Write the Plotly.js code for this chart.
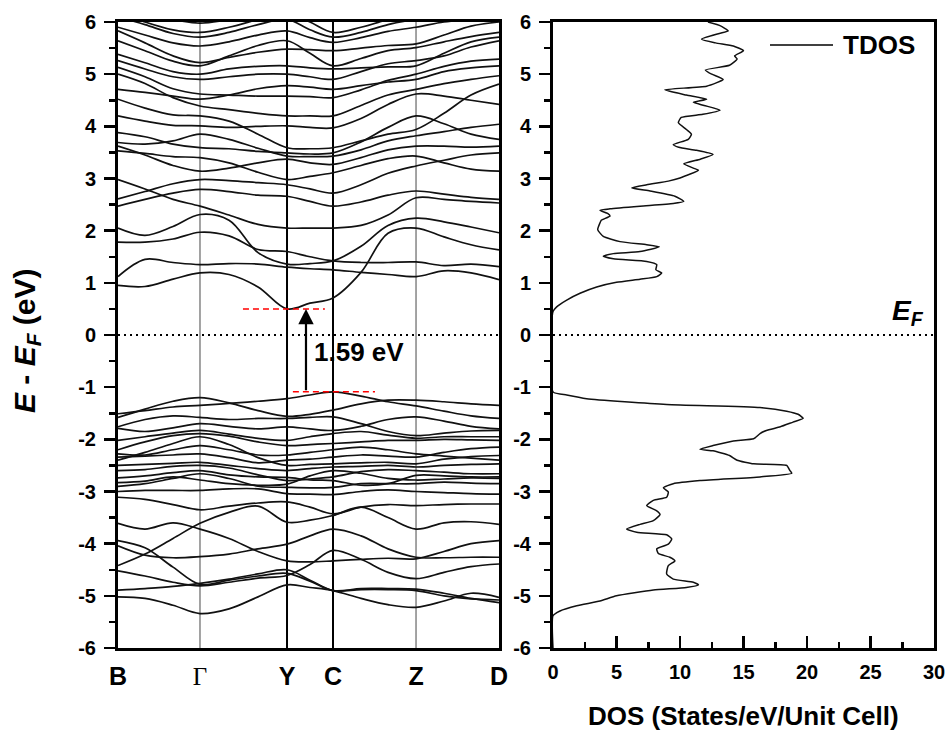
<!DOCTYPE html>
<html>
<head>
<meta charset="utf-8">
<script src="https://cdn.plot.ly/plotly-3.0.1.min.js"></script>
<style>
  html, body { margin: 0; padding: 0; background: #ffffff; }
  #chart { width: 950px; height: 734px; }
</style>
</head>
<body>
<div id="chart"></div>
<script>
// ---- k-path (fractional distance along B-Γ-Y-C-Z-D) ----
const kPath = [0, 0.0709, 0.1444, 0.2152, 0.2913, 0.3675, 0.4436, 0.5039,
               0.5643, 0.6378, 0.7087, 0.7822, 0.8556, 0.9265, 1.0];
const symPos = [0, 0.2152, 0.4436, 0.5643, 0.7822, 1.0];
const symLabels = ['B', 'Γ', 'Y', 'C', 'Z', 'D'];

// ---- band energies (eV, relative to E_F), one row per band, sampled on kPath ----
const conductionLow = [
  [0.95, 0.93, 1.07, 1.19, 1.16, 0.92, 0.50, 0.61, 0.71, 1.20, 1.95, 2.05, 1.88, 1.73, 1.63],
  [1.12, 1.45, 1.39, 1.35, 1.37, 1.36, 1.30, 1.27, 1.25, 1.20, 1.16, 1.12, 1.23, 1.19, 1.06],
  [1.78, 1.78, 1.84, 1.97, 1.90, 1.64, 1.60, 1.50, 1.42, 1.39, 1.39, 1.40, 1.33, 1.36, 1.31],
  [2.05, 1.91, 2.08, 2.31, 2.20, 1.58, 1.36, 1.37, 1.42, 1.70, 2.10, 2.24, 2.17, 2.07, 1.96],
  [2.98, 2.80, 2.60, 2.47, 2.30, 2.12, 2.05, 2.05, 2.05, 2.10, 2.30, 2.63, 2.60, 2.56, 2.53]
];
const conductionHigh = [
  [2.47, 2.60, 2.72, 2.79, 2.75, 2.68, 2.66, 2.56, 2.47, 2.55, 2.68, 2.76, 2.70, 2.64, 2.60],
  [2.61, 2.75, 2.90, 2.98, 2.96, 2.92, 2.88, 2.80, 2.72, 2.88, 3.10, 3.24, 3.35, 3.45, 3.49],
  [3.53, 3.48, 3.42, 3.40, 3.30, 3.12, 2.98, 3.04, 3.11, 3.25, 3.38, 3.43, 3.30, 3.18, 3.14],
  [3.62, 3.45, 3.25, 3.14, 3.20, 3.30, 3.37, 3.30, 3.27, 3.40, 3.55, 3.62, 3.62, 3.60, 3.62],
  [3.69, 3.66, 3.72, 3.85, 3.75, 3.58, 3.43, 3.42, 3.43, 3.55, 3.72, 3.82, 3.90, 3.98, 4.04],
  [3.88, 3.80, 3.66, 3.59, 3.57, 3.52, 3.49, 3.47, 3.49, 3.70, 3.98, 4.20, 4.05, 3.85, 3.75],
  [4.20, 4.10, 4.02, 4.01, 3.98, 4.00, 4.01, 3.98, 3.97, 4.15, 4.42, 4.62, 4.58, 4.50, 4.42],
  [4.52, 4.35, 4.22, 4.20, 4.10, 3.85, 3.59, 3.57, 3.59, 3.72, 3.85, 3.94, 4.25, 4.60, 4.81],
  [5.00, 4.82, 4.55, 4.39, 4.32, 4.25, 4.20, 4.20, 4.20, 4.40, 4.60, 4.71, 4.82, 4.90, 4.97],
  [4.71, 4.65, 4.58, 4.52, 4.60, 4.72, 4.78, 4.75, 4.71, 4.78, 4.85, 4.90, 5.05, 5.12, 5.16],
  [5.13, 4.95, 4.72, 4.62, 4.60, 4.58, 4.58, 4.57, 4.55, 4.70, 4.88, 5.00, 5.15, 5.25, 5.29],
  [5.26, 5.10, 4.95, 4.90, 4.95, 5.00, 5.00, 4.95, 4.90, 5.05, 5.20, 5.26, 5.35, 5.52, 5.64],
  [5.38, 5.22, 5.05, 5.00, 5.10, 5.15, 5.16, 5.12, 5.10, 5.12, 5.14, 5.16, 5.40, 5.62, 5.71],
  [5.64, 5.45, 5.25, 5.16, 5.35, 5.55, 5.64, 5.40, 5.16, 5.30, 5.45, 5.51, 5.62, 5.72, 5.80],
  [5.83, 5.60, 5.35, 5.22, 5.32, 5.42, 5.48, 5.47, 5.45, 5.50, 5.55, 5.58, 5.75, 5.92, 6.00],
  [5.90, 5.75, 5.60, 5.54, 5.62, 5.75, 5.83, 5.70, 5.61, 5.70, 5.82, 5.90, 6.00, 6.05, 6.10],
  [6.10, 5.95, 5.78, 5.71, 5.80, 5.95, 6.05, 5.85, 5.71, 5.80, 5.95, 6.05, 6.10, 6.15, 6.20],
  [6.20, 6.00, 5.85, 5.80, 5.90, 6.05, 6.20, 6.00, 5.80, 5.90, 6.05, 6.20, 6.25, 6.28, 6.30],
  [6.35, 6.20, 6.05, 5.98, 6.05, 6.20, 6.35, 6.20, 6.10, 6.20, 6.30, 6.35, 6.38, 6.40, 6.40]
];
const valenceHigh = [
  [-1.51, -1.45, -1.38, -1.35, -1.31, -1.27, -1.22, -1.15, -1.09, -1.17, -1.28, -1.36, -1.46, -1.55, -1.60],
  [-1.58, -1.42, -1.27, -1.20, -1.30, -1.45, -1.56, -1.52, -1.44, -1.32, -1.25, -1.25, -1.28, -1.32, -1.35],
  [-1.76, -1.62, -1.55, -1.58, -1.62, -1.60, -1.60, -1.58, -1.57, -1.70, -1.85, -1.93, -1.88, -1.84, -1.83],
  [-1.79, -1.85, -1.78, -1.70, -1.75, -1.80, -1.76, -1.80, -1.83, -1.75, -1.62, -1.57, -1.65, -1.75, -1.80],
  [-2.02, -1.95, -1.88, -1.83, -1.90, -1.98, -2.02, -1.95, -1.89, -1.85, -1.92, -1.98, -1.95, -1.95, -1.95],
  [-2.20, -2.05, -1.93, -1.89, -1.94, -2.05, -2.12, -2.10, -2.08, -2.05, -2.02, -2.02, -2.00, -2.01, -2.02],
  [-2.28, -2.30, -2.20, -2.12, -2.20, -2.30, -2.30, -2.25, -2.20, -2.15, -2.20, -2.28, -2.32, -2.36, -2.40],
  [-2.34, -2.32, -2.30, -2.28, -2.35, -2.45, -2.40, -2.38, -2.34, -2.30, -2.32, -2.34, -2.25, -2.18, -2.15],
  [-2.40, -2.25, -2.08, -1.95, -2.10, -2.35, -2.50, -2.48, -2.47, -2.45, -2.44, -2.47, -2.38, -2.33, -2.31],
  [-2.50, -2.48, -2.46, -2.44, -2.50, -2.56, -2.60, -2.56, -2.53, -2.52, -2.50, -2.53, -2.50, -2.48, -2.47],
  [-2.60, -2.58, -2.52, -2.50, -2.55, -2.68, -2.79, -2.76, -2.72, -2.62, -2.58, -2.60, -2.63, -2.66, -2.66],
  [-2.74, -2.70, -2.64, -2.60, -2.68, -2.72, -2.73, -2.78, -2.79, -2.88, -2.85, -2.69, -2.70, -2.72, -2.72],
  [-2.83, -2.80, -2.72, -2.78, -2.85, -2.88, -2.86, -2.70, -2.60, -2.65, -2.75, -2.78, -2.76, -2.74, -2.75],
  [-2.90, -2.85, -2.75, -2.66, -2.75, -2.90, -2.92, -2.93, -2.92, -2.85, -2.85, -2.85, -2.82, -2.84, -2.85],
  [-3.00, -2.98, -2.98, -2.98, -2.95, -2.95, -3.04, -3.05, -3.06, -3.00, -2.97, -3.00, -3.02, -3.04, -3.05],
  [-3.11, -3.15, -3.25, -3.35, -3.28, -3.22, -3.20, -3.30, -3.43, -3.30, -3.25, -3.27, -3.25, -3.24, -3.24]
];
const valenceLow = [
  [-3.61, -3.72, -3.60, -3.72, -3.90, -4.15, -4.33, -4.35, -4.33, -4.30, -4.28, -4.29, -4.15, -4.00, -3.94],
  [-4.42, -4.20, -3.90, -3.61, -3.40, -3.28, -3.59, -3.55, -3.46, -3.30, -3.50, -3.72, -3.60, -3.58, -3.63],
  [-3.94, -4.08, -4.45, -4.78, -4.70, -4.62, -4.57, -4.72, -4.90, -4.86, -4.86, -4.87, -4.95, -5.05, -5.13],
  [-4.52, -4.62, -4.74, -4.81, -4.74, -4.66, -4.61, -4.40, -4.13, -4.30, -4.55, -4.67, -4.55, -4.44, -4.39],
  [-4.04, -4.22, -4.27, -4.25, -4.20, -4.10, -4.01, -3.85, -3.72, -3.85, -4.10, -4.26, -4.27, -4.26, -4.26],
  [-4.89, -4.86, -4.82, -4.76, -4.68, -4.58, -4.50, -4.70, -4.90, -4.88, -4.88, -4.90, -5.00, -5.06, -5.08],
  [-5.02, -5.05, -5.18, -5.34, -5.25, -5.02, -4.79, -4.84, -4.90, -5.05, -5.17, -5.22, -5.10, -4.95, -5.03]
];

// ---- band-edge markers ----
const vbmEnergy = -1.09;   // top of valence band (at C)
const cbmEnergy = 0.50;    // bottom of conduction band (at Y)
const gapArrowK = 0.4934;

// ---- total density of states ----
const dosEnergyCond = [6.0, 5.93, 5.83, 5.78, 5.67, 5.6, 5.54, 5.45, 5.35, 5.29, 5.17, 5.08, 5.0, 4.9, 4.77, 4.7, 4.6, 4.52, 4.46, 4.4,
  4.31, 4.23, 4.17, 4.07, 3.94, 3.85, 3.75, 3.65, 3.6, 3.54, 3.46, 3.37, 3.28, 3.2, 3.16, 3.01, 2.95, 2.88, 2.82, 2.76,
  2.66, 2.56, 2.52, 2.47, 2.42, 2.39, 2.33, 2.28, 2.2, 2.15, 2.02, 1.89, 1.79, 1.73, 1.69, 1.6, 1.56, 1.51, 1.46, 1.41,
  1.35, 1.25, 1.19, 1.12, 1.07, 1.01, 0.92, 0.8, 0.67, 0.54, 0.45];
const dosCond = [12.2, 13.15, 13.8, 13.1, 11.7, 12.8, 14.2, 15.0, 14.3, 14.5, 13.9, 12.0, 12.5, 13.4, 12.1, 8.8, 10.5, 12.1, 11.05, 11.9,
  13.15, 11.8, 10.1, 9.87, 10.5, 10.9, 10.65, 9.47, 9.9, 11.3, 12.6, 11.6, 10.3, 11.05, 11.45, 10.0, 9.08, 7.38, 6.2, 7.64,
  9.6, 10.3, 9.47, 6.85, 4.49, 3.7, 4.3, 4.49, 3.8, 3.7, 3.52, 3.96, 5.28, 7.38, 8.37, 6.85, 4.75, 3.96, 4.75, 7.38,
  8.17, 8.1, 8.56, 8.17, 6.85, 5.0, 3.44, 2.13, 1.08, 0.29, 0.0];
const dosEnergyVal = [-1.09, -1.15, -1.22, -1.33, -1.39, -1.46, -1.52, -1.6, -1.67, -1.76, -1.83, -1.89, -1.99, -2.03, -2.12, -2.19, -2.22, -2.31, -2.4, -2.47,
  -2.5, -2.6, -2.65, -2.72, -2.79, -2.85, -2.93, -3.01, -3.11, -3.17, -3.27, -3.37, -3.44, -3.56, -3.63, -3.72, -3.78, -3.83, -3.91, -4.01,
  -4.1, -4.19, -4.26, -4.33, -4.42, -4.58, -4.68, -4.74, -4.79, -4.84, -4.89, -5.0, -5.1, -5.19, -5.29, -5.38, -6.0];
const dosVal = [0.0, 1.08, 2.65, 8.95, 16.3, 18.4, 19.3, 19.7, 18.9, 17.9, 16.8, 16.3, 15.8, 14.2, 12.6, 11.57, 12.6, 13.9, 14.5, 15.8,
  18.4, 18.66, 18.8, 16.3, 11.57, 9.47, 8.69, 9.08, 8.95, 7.9, 7.38, 8.17, 8.43, 7.9, 6.85, 5.8, 6.59, 8.95, 9.35, 9.08,
  8.17, 8.3, 9.2, 9.6, 9.08, 8.95, 9.47, 11.05, 11.45, 10.5, 7.9, 5.0, 3.7, 1.87, 0.55, 0.0, 0.0];

// ---- axis ticks ----
const energyTicks = [-6, -5, -4, -3, -2, -1, 0, 1, 2, 3, 4, 5, 6];
const energyTickText = ['-6', '-5', '-4', '-3', '-2', '-1', '0', '1', '2', '3', '4', '5', '6'];
const energyMinor = [-5.5, -4.5, -3.5, -2.5, -1.5, -0.5, 0.5, 1.5, 2.5, 3.5, 4.5, 5.5];
const dosTicks = [0, 5, 10, 15, 20, 25, 30];
const dosMinor = [2.5, 7.5, 12.5, 17.5, 22.5, 27.5];

const FONT = 'Liberation Sans, Arial, Helvetica, sans-serif';
const SERIF = 'Liberation Serif, Times New Roman, serif';

// paper-coordinate helpers for the 950 x 734 page (plot area spans y = 22 .. 648)
const px = x => x / 950;
const py = y => (648 - y) / 626;

const traces = [];
[conductionLow, conductionHigh, valenceHigh, valenceLow].forEach(group => {
  group.forEach(band => {
    traces.push({
      x: kPath, y: band, xaxis: 'x', yaxis: 'y',
      type: 'scatter', mode: 'lines',
      line: { color: '#111111', width: 1.7, shape: 'spline', smoothing: 1 },
      hoverinfo: 'skip', showlegend: false
    });
  });
});

traces.push({
  x: dosCond.concat(dosVal), y: dosEnergyCond.concat(dosEnergyVal),
  xaxis: 'x2', yaxis: 'y2', type: 'scatter', mode: 'lines', name: 'TDOS',
  line: { color: '#111111', width: 1.5, shape: 'spline', smoothing: 0.5 },
  hoverinfo: 'skip', showlegend: false
});

const symTickText = symLabels.map(s => s === 'Γ'
  ? '<span style="font-family:' + SERIF + ';font-weight:normal">Γ</span>' : s);

const energyAxis = {
  range: [-6, 6], tickmode: 'array', tickvals: energyTicks, ticktext: energyTickText,
  ticks: 'outside', ticklen: 11, tickwidth: 2.5, tickcolor: '#000',
  minor: { tickmode: 'array', tickvals: energyMinor, ticks: 'outside', ticklen: 6, tickwidth: 2.5, tickcolor: '#000' },
  showline: true, linewidth: 3, linecolor: '#000', mirror: true,
  showgrid: false, zeroline: false,
  tickfont: { family: FONT, size: 20, color: '#000', weight: 'bold' },
  ticklabelstandoff: 4, fixedrange: true
};

const symLines = symPos.slice(1, 5).map((k, i) => ({
  type: 'line', xref: 'x', yref: 'y', x0: k, x1: k, y0: -6, y1: 6, layer: 'below',
  line: { color: (i === 0 || i === 3) ? '#666666' : '#000000', width: (i === 0 || i === 3) ? 1.2 : 2 }
}));

const layout = {
  width: 950, height: 734,
  margin: { l: 0, r: 0, t: 22, b: 86 },
  paper_bgcolor: '#ffffff', plot_bgcolor: '#ffffff',
  font: { family: FONT, color: '#000' },
  showlegend: false,
  xaxis: {
    domain: [px(118), px(499)], range: [0, 1], anchor: 'y',
    tickmode: 'array', tickvals: symPos, ticktext: symTickText, ticks: '',
    showline: true, linewidth: 3, linecolor: '#000', mirror: true,
    showgrid: false, zeroline: false,
    tickfont: { family: FONT, size: 25, color: '#000', weight: 'bold' },
    ticklabelstandoff: 4, fixedrange: true
  },
  yaxis: Object.assign({ domain: [0, 1], anchor: 'x' }, energyAxis),
  xaxis2: {
    domain: [px(553), px(934)], range: [0, 30], anchor: 'y2',
    tickmode: 'array', tickvals: dosTicks, ticktext: dosTicks.map(String),
    ticks: 'inside', ticklen: 12, tickwidth: 2.5, tickcolor: '#000',
    minor: { tickmode: 'array', tickvals: dosMinor, ticks: 'inside', ticklen: 6, tickwidth: 2.5, tickcolor: '#000' },
    showline: true, linewidth: 3, linecolor: '#000', mirror: true,
    showgrid: false, zeroline: false,
    tickfont: { family: FONT, size: 20, color: '#000', weight: 'bold' },
    ticklabelstandoff: 4, fixedrange: true
  },
  yaxis2: Object.assign({ domain: [0, 1], anchor: 'x2' }, energyAxis),
  shapes: symLines.concat([
    // Fermi level
    { type: 'line', xref: 'x', yref: 'y', x0: 0, x1: 1, y0: 0, y1: 0,
      line: { color: '#000', width: 2, dash: '2px,4px' } },
    { type: 'line', xref: 'x2', yref: 'y2', x0: 0, x1: 30, y0: 0, y1: 0,
      line: { color: '#000', width: 2, dash: '2px,4px' } },
    // band-edge guides
    { type: 'line', xref: 'x', yref: 'y', x0: 0.328, x1: 0.543, y0: cbmEnergy, y1: cbmEnergy,
      line: { color: '#ff0000', width: 1.5, dash: '6px,4px' } },
    { type: 'line', xref: 'x', yref: 'y', x0: 0.459, x1: 0.6745, y0: vbmEnergy, y1: vbmEnergy,
      line: { color: '#ff0000', width: 1.5, dash: '6px,4px' } },
    // legend sample line
    { type: 'line', xref: 'paper', yref: 'paper', x0: px(770), x1: px(833), y0: py(45), y1: py(45),
      line: { color: '#000', width: 1.5 } }
  ]),
  annotations: [
    { xref: 'x', yref: 'y', x: gapArrowK, y: cbmEnergy, axref: 'x', ayref: 'y', ax: gapArrowK, ay: vbmEnergy,
      text: '', showarrow: true, arrowhead: 2, arrowsize: 1.4, arrowwidth: 2.2, arrowcolor: '#000', standoff: 0 },
    { xref: 'x', yref: 'y', x: 0.509, y: -0.33, xanchor: 'left', yanchor: 'middle', showarrow: false,
      text: '<b>' + (cbmEnergy - vbmEnergy).toFixed(2) + ' eV</b>',
      font: { family: FONT, size: 26, color: '#000' } },
    { xref: 'paper', yref: 'paper', x: px(26), y: py(341), xanchor: 'center', yanchor: 'middle',
      textangle: -90, showarrow: false,
      text: '<b><i>E</i> - <i>E</i><sub><i>F</i></sub> (eV)</b>',
      font: { family: FONT, size: 30, color: '#000' } },
    { xref: 'paper', yref: 'paper', x: px(743), y: py(716), xanchor: 'center', yanchor: 'middle',
      showarrow: false, text: '<b>DOS (States/eV/Unit Cell)</b>',
      font: { family: FONT, size: 26, color: '#000' } },
    { xref: 'paper', yref: 'paper', x: px(841), y: py(45), xanchor: 'left', yanchor: 'middle',
      showarrow: false, text: '<b>TDOS</b>',
      font: { family: FONT, size: 26, color: '#000' } },
    { xref: 'paper', yref: 'paper', x: px(908), y: py(312), xanchor: 'center', yanchor: 'middle',
      showarrow: false, text: '<b><i>E</i></b><sub><b><i>F</i></b></sub>',
      font: { family: FONT, size: 28, color: '#000' } }
  ]
};

Plotly.newPlot('chart', traces, layout, { staticPlot: true, displayModeBar: false });
</script>
</body>
</html>
